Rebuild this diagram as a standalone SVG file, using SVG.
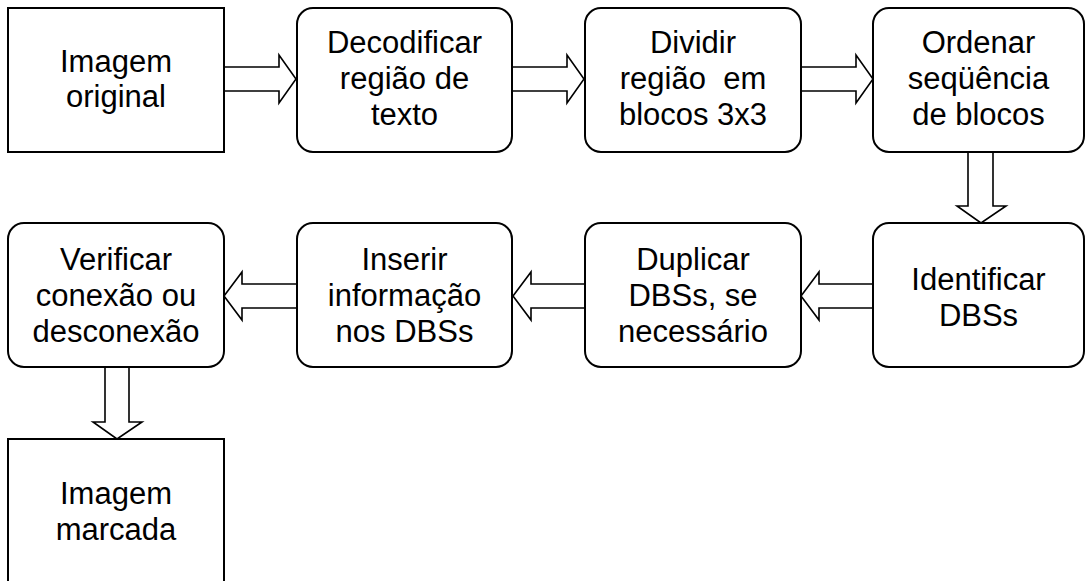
<svg xmlns="http://www.w3.org/2000/svg" width="1085" height="581" viewBox="0 0 1085 581">
<style>
.box{fill:#fff;stroke:#000;stroke-width:2}
.arr{fill:#fff;stroke:#000;stroke-width:1.6;stroke-linejoin:miter}
text{font-family:"Liberation Sans",Arial,sans-serif;font-size:31px;fill:#000;text-anchor:middle}
</style>
<rect width="1085" height="581" fill="#fff"/>
<g id="connectors">
<polygon class="arr" points="224,67 279,67 279,55 296,79 279,103 279,91 224,91"/>
<polygon class="arr" points="512,67 567,67 567,55 584,79 567,103 567,91 512,91"/>
<polygon class="arr" points="801,67 856,67 856,55 873,79 856,103 856,91 801,91"/>
<polygon class="arr" points="968,152 993,152 993,206 1006,206 981,223 957,206 968,206"/>
<polygon class="arr" points="873,284 819,284 819,272 801,296 819,320 819,308 873,308"/>
<polygon class="arr" points="585,284 531,284 531,272 513,296 531,320 531,308 585,308"/>
<polygon class="arr" points="297,284 242,284 242,272 224,296 242,320 242,308 297,308"/>
<polygon class="arr" points="105,367 129,367 129,422 142,422 117,439 93,422 105,422"/>
</g>
<g id="n1"><rect class="box" x="8" y="8" width="216" height="144"/><text x="116" y="72">Imagem</text><text x="116" y="107">original</text></g>
<g id="n2"><rect class="box" x="297" y="8" width="215" height="144" rx="16"/><text x="404.5" y="53">Decodificar</text><text x="404.5" y="89">região de</text><text x="404.5" y="125">texto</text></g>
<g id="n3"><rect class="box" x="585" y="8" width="216" height="144" rx="16"/><text x="693" y="53">Dividir</text><text x="693" y="89" xml:space="preserve">região  em</text><text x="693" y="125">blocos 3x3</text></g>
<g id="n4"><rect class="box" x="873" y="8" width="211" height="144" rx="16"/><text x="978.5" y="53">Ordenar</text><text x="978.5" y="89">seqüência</text><text x="978.5" y="125">de blocos</text></g>
<g id="n5"><rect class="box" x="873" y="223" width="211" height="144" rx="16"/><text x="978.5" y="290">Identificar</text><text x="978.5" y="326">DBSs</text></g>
<g id="n6"><rect class="box" x="585" y="223" width="216" height="144" rx="16"/><text x="693" y="270">Duplicar</text><text x="693" y="306">DBSs, se</text><text x="693" y="342">necessário</text></g>
<g id="n7"><rect class="box" x="297" y="223" width="215" height="144" rx="16"/><text x="404.5" y="270">Inserir</text><text x="404.5" y="306">informação</text><text x="404.5" y="342">nos DBSs</text></g>
<g id="n8"><rect class="box" x="8" y="223" width="216" height="144" rx="16"/><text x="116" y="270">Verificar</text><text x="116" y="306">conexão ou</text><text x="116" y="342">desconexão</text></g>
<g id="n9"><rect class="box" x="8" y="439" width="216" height="160"/><text x="116" y="504">Imagem</text><text x="116" y="540">marcada</text></g>
</svg>
